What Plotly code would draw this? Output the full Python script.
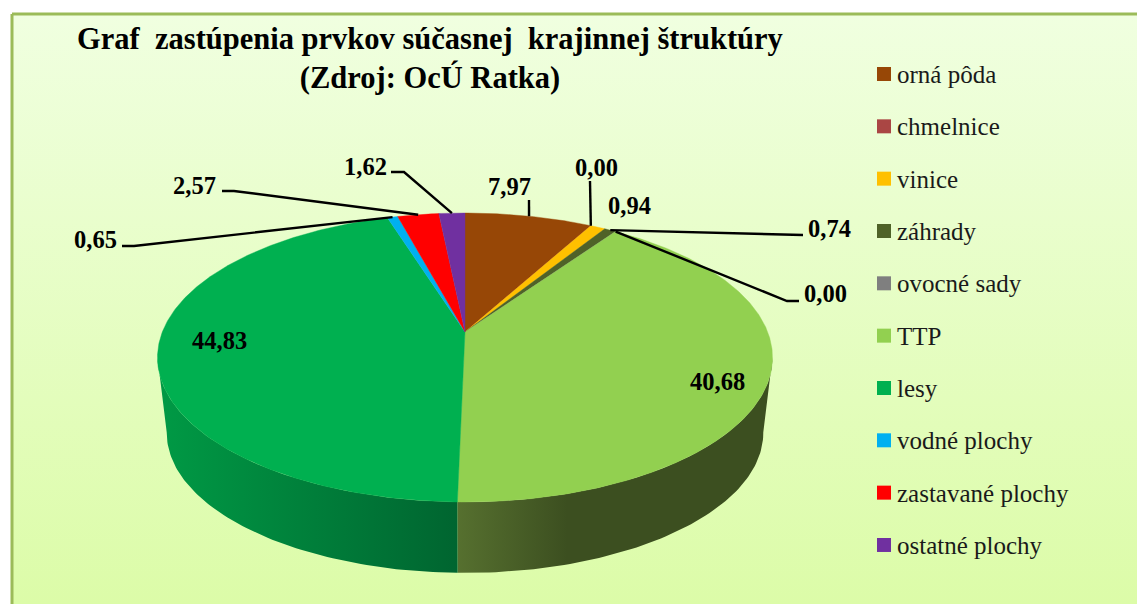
import numpy as np
import plotly.graph_objects as go

categories = ["orná pôda", "chmelnice", "vinice", "záhrady", "ovocné sady", "TTP", "lesy",
              "vodné plochy", "zastavané plochy", "ostatné plochy"]
values = [7.97, 0.00, 0.94, 0.74, 0.00, 40.68, 44.83, 0.65, 2.57, 1.62]
value_labels = ["7,97", "0,00", "0,94", "0,74", "0,00", "40,68", "44,83", "0,65", "2,57", "1,62"]
colors = ["#974706", "#AA4644", "#FFC000", "#4F6228", "#7F7F7F", "#92D050", "#00B050",
          "#00B0F0", "#FF0000", "#7030A0"]

# Projection of the tilted disc onto the page, in page pixels
CX, CY, R, S, K = 465.0, 332.0, 302.7, 140.0, 0.1765
DEPTH_SCALE, DEPTH_CY = 0.97, 408.0
SERIF = "Liberation Serif"


def rim(theta_deg, scale=1.0, cy=CY):
    t = np.radians(theta_deg)
    u, v = np.sin(t), np.cos(t)
    w = 1 + K * v
    return CX + scale * R * u / w, cy - scale * S * v / w


total = sum(values)
edges = np.concatenate([[0], np.cumsum(values)]) / total * 360
mids = (edges[:-1] + edges[1:]) / 2

fig = go.Figure()

# Panel background with vertical gradient and border
fig.add_trace(go.Scatter(
    x=[12, 1170, 1170, 12, 12], y=[14, 14, 640, 640, 14], mode="lines", fill="toself",
    line=dict(color="#9BBB59", width=3), hoverinfo="skip", showlegend=False,
    fillgradient=dict(type="vertical", start=14, stop=604,
                      colorscale=[[0, "#F0FFE0"], [1, "#DCFCA8"]])))


def wall(a, b, scale_colors, x0, x1):
    th = np.linspace(a, b, 80)
    xt, yt = rim(th)
    xb, yb = rim(th, DEPTH_SCALE, DEPTH_CY)
    fig.add_trace(go.Scatter(
        x=np.concatenate([xt, xb[::-1], xt[:1]]), y=np.concatenate([yt, yb[::-1], yt[:1]]),
        mode="lines", line=dict(width=0), fill="toself", hoverinfo="skip", showlegend=False,
        fillgradient=dict(type="horizontal", start=x0, stop=x1, colorscale=scale_colors)))


seam = edges[6]
wall(100, seam, [[0, "#56702F"], [0.35, "#3C4F20"], [1, "#3C4F20"]], rim(seam)[0], 772)
wall(seam, 260, [[0, "#009A45"], [1, "#006530"]], 157, rim(seam)[0])

# Top face slices
for name, col, a, b in zip(categories, colors, edges[:-1], edges[1:]):
    th = np.linspace(a, b, max(2, int((b - a) * 2)))
    x, y = rim(th)
    fig.add_trace(go.Scatter(
        x=np.concatenate([[CX], x, [CX]]), y=np.concatenate([[CY], y, [CY]]),
        mode="lines", fill="toself", fillcolor=col, line=dict(color=col, width=0.4),
        name=name, hoverinfo="name", showlegend=False))

# Leader lines from rim to label: (slice index, elbow, end)
leaders = [
    (0, None, (529, 200)),
    (1, None, (590, 181)),
    (3, None, (803, 235)),
    (4, (787, 301), (799, 301)),
    (7, (134, 246), (122, 246)),
    (8, (234, 191), (222, 191)),
    (9, (404, 172), (391, 172)),
]
for i, elbow, end in leaders:
    x0, y0 = rim(edges[i] if values[i] == 0 and i == 1 else mids[i])
    xs, ys = [float(x0)], [float(y0)]
    if elbow:
        xs.append(elbow[0]); ys.append(elbow[1])
    xs.append(end[0]); ys.append(end[1])
    fig.add_trace(go.Scatter(x=xs, y=ys, mode="lines", line=dict(color="black", width=2.4),
                             hoverinfo="skip", showlegend=False))

# Key: swatches with names
key_y = [74 + 52.33 * i for i in range(len(categories))]
for name, col, y in zip(categories, colors, key_y):
    fig.add_trace(go.Scatter(x=[884], y=[y], mode="markers", name=name, showlegend=False,
                             marker=dict(symbol="square", size=14, color=col)))

label_pos = [(509, 186), (596, 167), (629, 205), (829, 228), (825, 293),
             (717, 381), (219, 340), (95, 239), (194, 185), (365, 166)]
annotations = [dict(x=p[0], y=p[1], text=f"<b>{t}</b>", showarrow=False, xref="x", yref="y",
                    font=dict(family=SERIF, size=24.5, color="black"))
               for t, p in zip(value_labels, label_pos)]
annotations += [dict(x=895, y=y + 0.5, text=name, showarrow=False, xref="x", yref="y", xanchor="left",
                     font=dict(family=SERIF, size=25, color="#1a1a1a"))
                for name, y in zip(categories, key_y)]

fig.update_layout(
    width=1137, height=604, margin=dict(l=0, r=0, t=0, b=0), paper_bgcolor="white",
    plot_bgcolor="rgba(0,0,0,0)", showlegend=False,
    xaxis=dict(range=[0, 1137], visible=False, fixedrange=True),
    yaxis=dict(range=[604, 0], visible=False, fixedrange=True),
    title=dict(text="<b>Graf\u00a0 zastúpenia prvkov súčasnej\u00a0 krajinnej štruktúry<br>(Zdroj: OcÚ Ratka)</b>",
               x=430 / 1137, xanchor="center", y=1 - 48.5 / 604, yanchor="middle",
               font=dict(family=SERIF, size=30.5, color="black")),
    annotations=annotations,
)

fig.write_html("out.html", config=dict(displayModeBar=False),
               post_script="document.body.style.margin='0';document.documentElement.style.overflow='hidden';")
